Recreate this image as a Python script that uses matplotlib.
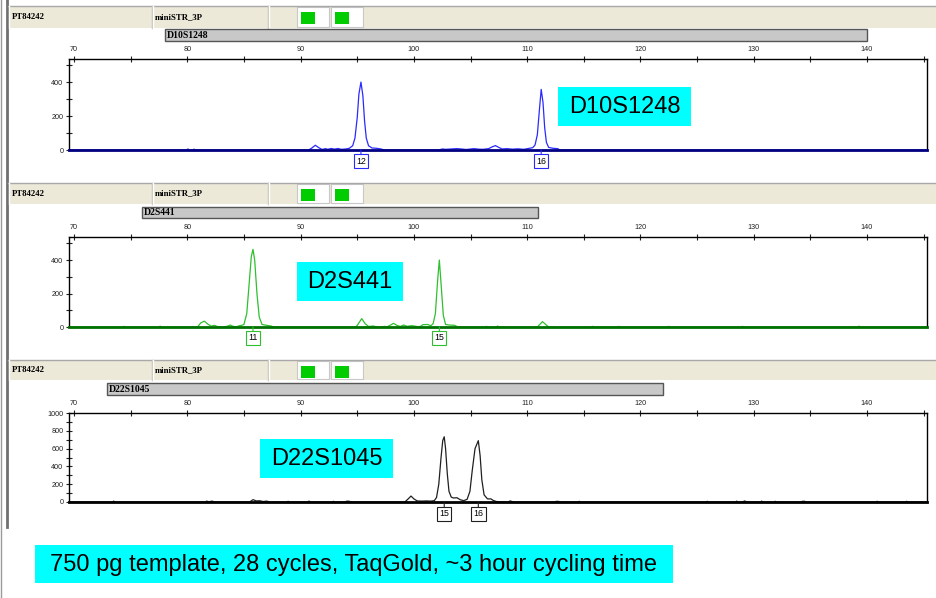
import matplotlib.pyplot as plt
from matplotlib.patches import Rectangle
from matplotlib.transforms import blended_transform_factory

# ---- data (bp, RFU) ----
blue_trace = [(69.6, 0), (79.9, 0), (80.05, 6), (80.2, 0), (80.5, 0), (80.6, 5), (80.7, 0),
              (90.7, 0), (91.0, 12), (91.3, 28), (91.6, 14), (91.9, 3), (92.2, 8), (92.4, 4),
              (92.7, 9), (93.0, 5), (93.3, 9), (93.6, 4), (94.0, 6), (94.3, 10), (94.6, 25),
              (94.8, 70), (95.0, 190), (95.15, 330), (95.33, 400), (95.5, 320), (95.65, 170),
              (95.8, 70), (96.0, 25), (96.3, 12), (96.7, 10), (97.1, 6), (97.4, 0),
              (102.2, 0), (102.5, 6), (102.8, 4), (103.8, 8), (104.2, 6), (104.6, 3), (104.9, 5),
              (105.3, 8), (105.7, 5), (106.1, 4), (106.6, 8), (106.9, 18), (107.2, 26),
              (107.5, 15), (107.8, 6), (108.2, 8), (108.7, 5), (109.2, 7), (109.7, 4),
              (110.2, 10), (110.5, 14), (110.7, 30), (110.9, 90), (111.1, 250), (111.24, 357),
              (111.4, 280), (111.55, 130), (111.7, 45), (111.9, 15), (112.3, 10), (112.7, 8),
              (112.9, 0), (145.3, 0)]

green_trace = [(69.6, 0), (74.3, 0), (74.4, 4), (74.5, 0), (77.5, 0), (77.6, 5), (77.7, 0),
               (80.9, 0), (81.2, 25), (81.5, 35), (81.8, 18), (82.1, 5), (82.4, 10), (82.6, 4),
               (82.8, 0), (83.2, 0), (83.6, 6), (83.8, 12), (84.0, 5), (84.3, 0), (84.6, 8),
               (84.8, 10), (85.0, 15), (85.25, 80), (85.45, 250), (85.65, 420), (85.8, 464),
               (85.95, 400), (86.15, 200), (86.35, 60), (86.6, 15), (87.0, 10), (87.4, 6),
               (87.6, 0), (94.9, 0), (95.1, 20), (95.4, 50), (95.7, 20), (96.0, 3), (96.4, 6),
               (96.6, 3), (96.8, 0), (97.2, 0), (97.4, 4), (97.6, 0), (97.9, 10), (98.2, 22),
               (98.5, 10), (98.8, 3), (99.1, 12), (99.4, 4), (99.8, 8), (100.2, 4), (100.5, 0),
               (100.8, 14), (101.2, 15), (101.5, 8), (101.7, 20), (101.9, 80), (102.1, 280),
               (102.25, 400), (102.4, 260), (102.6, 70), (102.8, 15), (103.1, 12), (103.6, 10),
               (103.9, 0), (106.3, 0), (106.4, 4), (106.5, 0), (107.3, 0), (107.4, 6), (107.5, 0),
               (110.9, 0), (111.35, 32), (111.9, 0), (115.7, 0), (115.8, 4), (115.9, 0),
               (118.0, 0), (118.1, 4), (118.2, 0), (122.4, 0), (122.5, 4), (122.6, 0),
               (128.9, 0), (129.0, 4), (129.1, 0), (139.2, 0), (139.3, 5), (139.4, 0), (145.3, 0)]

black_trace = [(69.6, 0), (73.4, 0), (73.5, 10), (73.6, 0), (81.6, 0), (81.7, 10), (81.9, 3),
               (82.2, 10), (82.4, 0), (85.5, 0), (85.8, 26), (86.1, 12), (86.4, 14), (86.7, 5),
               (87.0, 10), (87.3, 0), (88.8, 0), (88.9, 8), (89.0, 0), (90.6, 0), (90.75, 10),
               (90.9, 0), (92.8, 0), (92.9, 8), (93.0, 0), (93.9, 0), (94.1, 10), (94.3, 8),
               (94.5, 0), (99.2, 0), (99.5, 35), (99.75, 67), (100.0, 35), (100.3, 12),
               (100.7, 10), (101.1, 12), (101.5, 10), (101.8, 15), (102.0, 50), (102.2, 200),
               (102.4, 500), (102.55, 690), (102.68, 733), (102.8, 600), (102.95, 320),
               (103.1, 120), (103.3, 55), (103.5, 45), (103.8, 48), (104.1, 25), (104.4, 15),
               (104.7, 30), (104.95, 120), (105.15, 350), (105.4, 600), (105.69, 689),
               (105.85, 520), (106.0, 250), (106.2, 80), (106.5, 35), (106.8, 35), (107.0, 18),
               (107.3, 5), (108.3, 0), (108.5, 12), (108.8, 0), (112.4, 0), (112.6, 8),
               (112.8, 6), (113.0, 0), (114.5, 0), (114.6, 8), (114.7, 0), (125.8, 0),
               (125.9, 8), (126.0, 0), (128.4, 0), (128.5, 10), (128.6, 0), (129.0, 0),
               (129.2, 12), (129.4, 0), (130.6, 0), (130.7, 10), (130.8, 0), (131.8, 0),
               (131.9, 8), (132.0, 0), (134.2, 0), (134.3, 8), (134.5, 8), (134.6, 0),
               (140.8, 0), (140.9, 8), (141.0, 0), (143.4, 0), (143.5, 8), (143.6, 0), (145.3, 0)]

markers = ["D10S1248", "D2S441", "D22S1045"]
marker_ranges = [(78.0, 140.0), (76.0, 111.0), (72.9, 122.0)]
allele_calls = [[(95.33, "12"), (111.24, "16")],
                [(85.8, "11"), (102.25, "15")],
                [(102.68, "15"), (105.69, "16")]]
sample_name = "PT84242"
panel_name = "miniSTR_3P"
caption = "750 pg template, 28 cycles, TaqGold, ~3 hour cycling time"

# ---- layout (pixels) ----
W, H = 937, 598
SANS = "Liberation Sans"
SERIF = "Liberation Serif"

fig = plt.figure(figsize=(W / 100, H / 100), dpi=100)
bg = fig.add_axes([0, 0, 1, 1])
bg.set_xlim(0, W)
bg.set_ylim(H, 0)
bg.axis("off")

# window frame on the left
bg.plot([1, 1], [0, H], color="#9a9a9a", lw=1)
bg.plot([7, 7], [0, 527], color="#707070", lw=2)


def draw_header(y0, y1):
    bg.add_patch(Rectangle((8, y0), W - 8, y1 - y0, fc="#ece9d8", ec="none"))
    bg.plot([8, W], [y0 - 0.5, y0 - 0.5], color="#a8a8a8", lw=1)
    bg.plot([9, 9], [y0, y1], color="white", lw=1)
    for xd in (152, 268):
        bg.plot([xd, xd], [y0, y1], color="#c4c0b4", lw=1)
        bg.plot([xd + 1, xd + 1], [y0, y1], color="white", lw=1)
    for xc in (297, 331):
        bg.add_patch(Rectangle((xc, y0 + 1), 32, y1 - y0 - 2, fc="white",
                               ec="#c8c8c8", lw=0.8))
        bg.add_patch(Rectangle((xc + 4, y0 + 6), 14, 12, fc="#00cc00", ec="none"))
    ym = (y0 + y1) / 2
    bg.text(12, ym, sample_name, family=SERIF, weight="bold", fontsize=6.3,
            va="center", ha="left")
    bg.text(155, ym, panel_name, family=SERIF, weight="bold", fontsize=6.3,
            va="center", ha="left")


panels = [
    dict(trace=blue_trace, color="#2a2aff", base="#000080", head=(6, 28), bar=(29, 41),
         box=(59, 150), ymax=536, yt=[0, 200, 400], ym=[100, 300, 500],
         label=(558, 87, 691, 126), off=11),
    dict(trace=green_trace, color="#2ec02e", base="#007000", head=(183, 204), bar=(207, 218),
         box=(237, 327), ymax=538, yt=[0, 200, 400], ym=[100, 300, 500],
         label=(297, 262, 403, 301), off=11),
    dict(trace=black_trace, color="#202020", base="black", head=(360, 380), bar=(383, 395),
         box=(413, 502), ymax=1000, yt=[0, 200, 400, 600, 800, 1000],
         ym=[100, 300, 500, 700, 900], label=(260, 439, 393, 478), off=12),
]

x_left, x_right = 69, 927
bp_left = 70 + (x_left - 74) / (793 / 70)
bp_right = 70 + (x_right - 74) / (793 / 70)

for i, p in enumerate(panels):
    draw_header(*p["head"])
    top, bot = p["box"]
    ax = fig.add_axes([x_left / W, 1 - bot / H, (x_right - x_left) / W, (bot - top) / H])
    ax.set_facecolor("none")
    ax.set_xlim(bp_left, bp_right)
    ax.set_ylim(0, p["ymax"])
    bp = [t[0] for t in p["trace"]]
    rfu = [t[1] for t in p["trace"]]
    ax.plot(bp, rfu, color=p["color"], lw=0.9, clip_on=False)

    ax.xaxis.tick_top()
    ax.set_xticks(range(70, 141, 10))
    ax.set_xticks(range(75, 146, 10), minor=True)
    ax.set_yticks(p["yt"])
    ax.set_yticks(p["ym"], minor=True)
    ax.tick_params(axis="both", which="both", direction="inout", length=5, width=0.8,
                   labelsize=5.2, colors="#222222")
    ax.tick_params(axis="x", pad=1.5)
    ax.tick_params(axis="y", pad=1.5)
    for lab in ax.get_xticklabels() + ax.get_yticklabels():
        lab.set_family(SANS)
    for s in ("top", "left", "right"):
        ax.spines[s].set_linewidth(1)
        ax.spines[s].set_color("black")
    ax.spines["bottom"].set_linewidth(2)
    ax.spines["bottom"].set_color(p["base"])

    # marker bin bar above the axis
    tr = blended_transform_factory(ax.transData, ax.transAxes)
    b0, b1 = p["bar"]
    f0 = (bot - b1) / (bot - top)
    f1 = (bot - b0) / (bot - top)
    m0, m1 = marker_ranges[i]
    ax.add_patch(Rectangle((m0, f0), m1 - m0, f1 - f0, transform=tr, fc="#c8c8c8",
                           ec="#555555", lw=1, clip_on=False))
    ax.text(m0 + 0.2, (f0 + f1) / 2, markers[i], transform=tr, family=SERIF,
            weight="bold", fontsize=7, va="center", ha="left")

    # allele call boxes
    for pos, allele in allele_calls[i]:
        ax.annotate(allele, xy=(pos, 0), xytext=(0, -p["off"]), textcoords="offset pixels",
                    ha="center", va="center", fontsize=6.3, family=SANS,
                    bbox=dict(boxstyle="square,pad=0.25", fc="white", ec=p["color"], lw=0.8),
                    arrowprops=dict(arrowstyle="-", color=p["color"], lw=0.8,
                                    shrinkA=0, shrinkB=0),
                    annotation_clip=False)

# cyan slide labels on top of everything
fg = fig.add_axes([0, 0, 1, 1])
fg.set_xlim(0, W)
fg.set_ylim(H, 0)
fg.axis("off")


def cyan_label(x0, y0, x1, y1, text):
    fg.add_patch(Rectangle((x0, y0), x1 - x0, y1 - y0, fc="#00ffff", ec="none"))
    fg.text((x0 + x1) / 2, (y0 + y1) / 2 + 0.5, text, family=SANS, fontsize=17,
            ha="center", va="center", color="black")


for i, p in enumerate(panels):
    cyan_label(*p["label"], markers[i])
cyan_label(35, 545, 673, 583, caption)

fig.savefig("out.png", dpi=100)
